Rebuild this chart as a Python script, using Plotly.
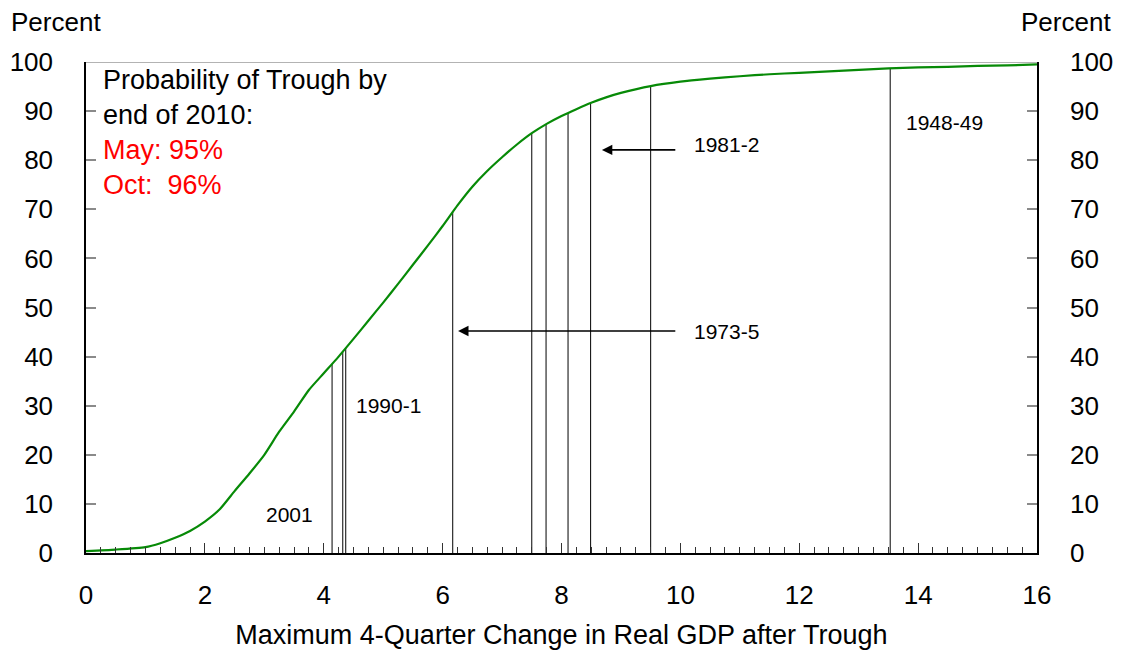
import numpy as np
import plotly.graph_objects as go

# Cumulative probability curve
gdp_change = [0, 0.5, 1.0, 1.25, 1.5, 1.75, 2.0, 2.25, 2.5, 2.75, 3.0, 3.25, 3.5, 3.75,
              4.0, 4.25, 4.5, 4.75, 5.0, 5.25, 5.5, 5.75, 6.0, 6.25, 6.5, 6.75, 7.0,
              7.25, 7.5, 7.75, 8.0, 8.25, 8.5, 8.75, 9.0, 9.5, 10.0, 10.5, 11.0, 11.5,
              12.0, 12.5, 13.0, 13.5, 14.0, 14.5, 15.0, 15.5, 16.0]
probability = [0.4, 0.7, 1.2, 2.0, 3.1, 4.5, 6.4, 8.9, 12.6, 16.2, 20.0, 24.7, 28.8, 33.2,
               36.6, 40.0, 43.6, 47.3, 51.0, 54.8, 58.7, 62.6, 66.6, 70.8, 74.6, 77.8, 80.6,
               83.2, 85.5, 87.4, 89.0, 90.4, 91.7, 92.8, 93.7, 95.1, 96.0, 96.6, 97.1, 97.5,
               97.8, 98.1, 98.4, 98.7, 98.9, 99.0, 99.2, 99.3, 99.5]

# Past recoveries: maximum 4-quarter GDP change after trough
recovery_values = [4.14, 4.32, 4.37, 6.17, 7.50, 7.74, 8.11, 8.49, 9.50, 13.53]

# Labels for selected recoveries (text, x, y)
label_texts = ["2001", "1990-1", "1973-5", "1981-2", "1948-49"]
label_x = [3.43, 5.09, 10.2, 10.2, 14.44]
label_y = [7.9, 30.0, 45.2, 83.3, 87.7]
label_anchor = ["center", "center", "left", "left", "center"]

# Arrows (head x, tail x, y)
arrow_head_x = [6.26, 8.68]
arrow_tail_x = [9.94, 9.94]
arrow_y = [45.2, 82.1]

y_ticks = list(range(0, 101, 10))
x_ticks = list(range(0, 17, 2))

FONT = "Liberation Sans, Arial, sans-serif"
GREEN = "#078a07"

fig = go.Figure()

# vertical lines up to the curve
rec_heights = np.interp(recovery_values, gdp_change, probability)
vx, vy = [], []
for xv, hv in zip(recovery_values, rec_heights):
    vx += [xv, xv, None]
    vy += [0, hv, None]
fig.add_trace(go.Scatter(x=vx, y=vy, mode="lines",
                         line=dict(color="black", width=1), hoverinfo="skip",
                         showlegend=False))

fig.add_trace(go.Scatter(x=gdp_change, y=probability, mode="lines",
                         line=dict(color=GREEN, width=2.2, shape="spline", smoothing=0.6),
                         showlegend=False))

# dummy trace for right axis
fig.add_trace(go.Scatter(x=[None], y=[None], yaxis="y2", showlegend=False))

annotations = []
for t, xv, yv, anc in zip(label_texts, label_x, label_y, label_anchor):
    annotations.append(dict(x=xv, y=yv, xref="x", yref="y", text=t, showarrow=False,
                            xanchor=anc, yanchor="middle",
                            font=dict(family=FONT, size=21, color="black")))
for hx, tx, yv in zip(arrow_head_x, arrow_tail_x, arrow_y):
    annotations.append(dict(x=hx, y=yv, ax=tx, ay=yv, xref="x", yref="y",
                            axref="x", ayref="y", text="", showarrow=True,
                            arrowhead=2, arrowsize=1.3, arrowwidth=1.6,
                            arrowcolor="black"))

annotations.append(dict(
    x=0.25, y=99.8, xref="x", yref="y", xanchor="left", yanchor="top", align="left",
    showarrow=False,
    text=("Probability of Trough by<br>end of 2010:<br>"
          "<span style='color:#ff0000'>May: 95%</span><br>"
          "<span style='color:#ff0000'>Oct:&nbsp; 96%</span>"),
    font=dict(family=FONT, size=27, color="black")))

annotations.append(dict(x=-0.081, y=1.082, xref="paper", yref="paper", text="Percent",
                        showarrow=False, xanchor="left", yanchor="middle",
                        font=dict(family=FONT, size=26, color="black")))
annotations.append(dict(x=1.08, y=1.082, xref="paper", yref="paper", text="Percent",
                        showarrow=False, xanchor="right", yanchor="middle",
                        font=dict(family=FONT, size=26, color="black")))

shapes = [dict(type="line", xref="x", yref="y", x0=0, x1=16, y0=100, y1=100,
               line=dict(color="#9a9a9a", width=1.5), layer="below")]

# page body adds an 8px offset; compensate so the plot area lands where the reference has it
fig.update_layout(
    width=1117, height=645,
    margin=dict(l=78, r=88, t=54, b=100, autoexpand=False),
    paper_bgcolor="white", plot_bgcolor="white",
    font=dict(family=FONT, color="black"),
    annotations=annotations, shapes=shapes,
    xaxis=dict(range=[0, 16], tickvals=x_ticks, ticks="inside", ticklen=10,
               tickcolor="#333333", tickwidth=1.2,
               showline=True, linecolor="black", linewidth=1.5,
               showgrid=False, zeroline=False,
               tickfont=dict(family=FONT, size=26), ticklabelstandoff=18,
               minor=dict(dtick=0.25, ticks="inside", ticklen=6,
                          tickcolor="#333333", tickwidth=1),
               title=dict(text="Maximum 4-Quarter Change in Real GDP after Trough",
                          font=dict(family=FONT, size=27), standoff=16)),
    yaxis=dict(range=[0, 100], tickvals=y_ticks, ticks="inside", ticklen=10,
               tickcolor="#8a8a8a", tickwidth=1.5,
               showline=True, linecolor="black", linewidth=1.5,
               showgrid=False, zeroline=False,
               tickfont=dict(family=FONT, size=26), ticklabelstandoff=26),
    yaxis2=dict(range=[0, 100], tickvals=y_ticks, ticks="inside", ticklen=10,
                tickcolor="#8a8a8a", tickwidth=1.5, overlaying="y", side="right",
                showline=True, linecolor="black", linewidth=1.5,
                showgrid=False, zeroline=False,
                tickfont=dict(family=FONT, size=26), ticklabelstandoff=26),
)

fig.write_html("out.html")
